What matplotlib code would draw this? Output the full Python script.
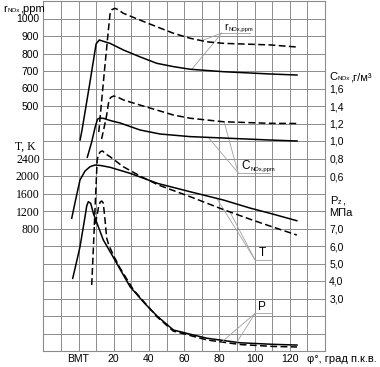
import numpy as np
import matplotlib
matplotlib.use("Agg")
from matplotlib import pyplot as plt

plt.rcParams['font.family'] = ['Liberation Sans', 'DejaVu Sans']

############ data ############
# r_NOx, ppm
phi_r_s = [0.9, 2.0, 6.0, 10.0, 11.8, 14.0, 17.9, 25.5, 34.9, 44.4, 53.9, 63.4, 82.3, 108.8, 124.1]
r_s     = [306, 363, 605, 855, 877, 870, 858, 820, 781, 744, 725, 710, 696, 683, 677]
phi_r_d = [11.5, 14.5, 16.8, 17.9, 19.0, 20.7, 22.4, 25.4, 34.9, 44.4, 54.1, 63.4, 72.9, 82.3, 108.8, 124.1]
r_d     = [351, 677, 917, 1026, 1051, 1058, 1051, 1030, 991, 953, 915, 887, 867, 858, 849, 837]
# C_NOx, g/m3
phi_c_s = [5.0, 7.5, 9.5, 10.8, 12.2, 14.5, 18.0, 23.6, 34.9, 46.3, 63.4, 82.3, 108.8, 124.1]
c_s     = [0.814, 0.99, 1.163, 1.25, 1.263, 1.257, 1.234, 1.206, 1.126, 1.08, 1.05, 1.034, 1.011, 1.0]
phi_c_d = [13.1, 14.5, 16.0, 17.05, 18.2, 19.9, 21.9, 25.5, 34.9, 44.4, 53.9, 63.4, 82.3, 108.8, 124.1]
c_d     = [1.023, 1.149, 1.297, 1.435, 1.497, 1.514, 1.505, 1.469, 1.411, 1.354, 1.297, 1.26, 1.22, 1.202, 1.2]
# T, K
phi_t_s = [-3.86, -1.42, 0.85, 3.69, 6.53, 9.38, 12.5, 17.9, 29.3, 45.0, 63.4, 82.3, 97.6, 108.8, 124.0]
t_s     = [1033, 1497, 1909, 2114, 2212, 2251, 2240, 2199, 2061, 1830, 1640, 1451, 1265, 1147, 978]
phi_t_d = [8.98, 9.6, 10.1, 10.6, 11.36, 12.5, 13.75, 15.06, 17.9, 25.4, 35.0, 45.0, 63.4, 82.1, 97.6, 108.8, 124.0]
t_d     = [880, 1451, 1909, 2366, 2491, 2560, 2571, 2514, 2441, 2212, 2000, 1800, 1527, 1235, 1010, 855, 651]
# Pz, MPa
phi_p_s = [-3.3, -1.0, 0.85, 2.5, 3.69, 4.66, 5.57, 6.93, 8.41, 11.25, 14.1, 19.0, 23.6, 29.3, 37.5,
           44.6, 53.9, 63.0, 72.9, 91.8, 110.7, 124.1]
p_s     = [4.15, 5.14, 5.96, 6.95, 7.67, 8.29, 8.53, 8.44, 7.87, 7.10, 6.34, 5.49, 4.67, 3.67, 2.73,
           2.0, 1.2, 0.97, 0.73, 0.47, 0.38, 0.34]
phi_p_d = [7.5, 8.24, 8.98, 10.06, 10.8, 11.48, 12.33, 13.18, 14.03, 14.66, 15.17, 16.0, 17.05,
           18.47, 20.17, 23.58, 31.1, 44.6, 53.8, 73.0, 91.8, 110.6, 124.1]
p_d     = [3.77, 5.43, 7.14, 7.51, 7.89, 8.29, 8.51, 8.57, 8.46, 7.89, 7.37, 6.46, 6.09,
           5.77, 5.4, 4.74, 3.51, 1.95, 1.14, 0.63, 0.37, 0.26, 0.23]

x_ticks = [0, 20, 40, 60, 80, 100, 120]
x_ticklabels = ['ВМТ', '20', '40', '60', '80', '100', '120']
r_ticks = [500, 600, 700, 800, 900, 1000]
t_ticks = [800, 1200, 1600, 2000, 2400]
c_ticks = [0.6, 0.8, 1.0, 1.2, 1.4, 1.6]
p_ticks = [3, 4, 5, 6, 7]
####################################################

fig = plt.figure(figsize=(3.8, 3.67), dpi=100)
ax = fig.add_axes([43.3/380, 16/367, (325-43.3)/380, 350/367])
ax_r = ax.twinx()
ax_t = ax.twinx()
ax_c = ax.twinx()

ax.set_xlim(-20, 140)
ax.set_ylim(0, 20)
ax_r.set_ylim(-900, 1100)
ax_t.set_ylim(-2000, 6000)
ax_c.set_ylim(-1.4, 2.6)

fs = 7.5
gcol = '#8c8c8c'
ax.set_xticks(np.arange(-20, 141, 10))
ax.set_xticklabels([x_ticklabels[x_ticks.index(v)] if v in x_ticks else '' for v in range(-20, 141, 10)])
ax.set_yticks(np.arange(0, 21, 1))
ax.set_yticklabels([('%.1f' % v).replace('.', ',') if v in p_ticks else '' for v in range(21)])
ax.grid(True, color=gcol, lw=0.7)
ax.set_axisbelow(True)
for s in ax.spines.values():
    s.set_color(gcol)
    s.set_linewidth(0.8)
ax.yaxis.tick_right()
ax.tick_params(axis='both', length=0, labelsize=fs)
ax.tick_params(axis='x', pad=2.5)
ax.tick_params(axis='y', pad=3)

for a in (ax_r, ax_t, ax_c):
    a.set_frame_on(False)
    a.tick_params(axis='y', length=0, labelsize=fs)

ax_r.yaxis.tick_left()
ax_r.set_yticks(r_ticks)
ax_r.set_yticklabels([str(v) for v in r_ticks])
ax_r.tick_params(axis='y', pad=3)

ax_t.yaxis.tick_left()
ax_t.set_yticks(t_ticks)
ax_t.set_yticklabels([str(v) for v in t_ticks], family='Liberation Serif', fontsize=8.5)
ax_t.tick_params(axis='y', pad=2.5)

ax_c.set_yticks(c_ticks)
ax_c.set_yticklabels([('%.1f' % v).replace('.', ',') for v in c_ticks])
ax_c.tick_params(axis='y', pad=3)

lw = 1.1
ds = (4.5, 2.2)
ax_r.plot(phi_r_s, r_s, color='k', lw=lw)
ax_r.plot(phi_r_d, r_d, color='k', lw=lw, dashes=ds)
ax_c.plot(phi_c_s, c_s, color='k', lw=lw)
ax_c.plot(phi_c_d, c_d, color='k', lw=lw, dashes=ds)
ax_t.plot(phi_t_s, t_s, color='k', lw=lw)
ax_t.plot(phi_t_d, t_d, color='k', lw=lw, dashes=ds)
ax.plot(phi_p_s, p_s, color='k', lw=lw)
ax.plot(phi_p_d, p_d, color='k', lw=lw, dashes=ds)


def with_sub(x, y, main, sub, rest='', size=8, subsize=4.5, transform=None):
    # main letter, small subscript, then the rest of the caption
    t = ax.text(x, y, main, fontsize=size, va='bottom', ha='left',
                transform=transform if transform is not None else ax.transData, clip_on=False)
    s = ax.annotate(sub, xy=(1, 0.05), xycoords=t, xytext=(0.4, 0), textcoords='offset points',
                    fontsize=subsize, va='bottom', ha='left', annotation_clip=False)
    if rest:
        ax.annotate(rest, xy=(1, 0), xycoords=(s, t), xytext=(0.2, 0), textcoords='offset points',
                    fontsize=size, va='bottom', ha='left', annotation_clip=False)
    return t


# leader lines with labels
lcol = '#a0a0a0'
def leader(a, targets, base, end):
    for (px, curve_x, curve_y) in targets:
        ax.annotate('', xy=(px, np.interp(px, curve_x, curve_y)), xycoords=a.transData,
                    xytext=base, textcoords=ax.transData,
                    arrowprops=dict(arrowstyle='-', color=lcol, lw=0.6, shrinkA=0, shrinkB=0))
    ax.plot([base[0], end], [base[1], base[1]], color=lcol, lw=0.6)

leader(ax_r, [(70.0, phi_r_d, r_d), (64.3, phi_r_s, r_s)], (81.4, 18.17), 97.4)
with_sub(83.0, 18.2, 'r', 'NOx,ppm', size=7.5, subsize=4.2)
leader(ax_c, [(73.7, phi_c_s, c_s), (82.7, phi_c_d, c_d)], (90.6, 10.19), 108.8)
with_sub(92.5, 10.22, 'C', 'NOx,ppm', size=8.5, subsize=4.2)
leader(ax_t, [(78.5, phi_t_s, t_s), (86.0, phi_t_d, t_d)], (100.3, 5.2), 109.8)
ax.text(102.2, 5.23, 'T', fontsize=8.5, va='bottom', ha='left')
leader(ax, [(81.4, phi_p_d, p_d), (89.9, phi_p_s, p_s)], (100.3, 2.15), 109.8)
ax.text(102.2, 2.18, 'P', fontsize=8.5, va='bottom', ha='left')

# axis captions
F = fig.transFigure
with_sub(3/380, 1-14/367, 'r', 'NOx', ',ppm', size=8, subsize=4.5, transform=F)
ax.text(15/380, 1-147/367, 'T, K', fontsize=8.5, family='Liberation Serif', va='center', ha='left',
        transform=F)
with_sub(329/380, 1-82/367, 'C', 'NOx', ',г/м³', size=8, subsize=4.5, transform=F)
with_sub(330/380, 1-206/367, 'P', 'z', ',', size=8, subsize=5, transform=F)
ax.text(329/380, 1-213.5/367, 'МПа', fontsize=8, va='center', ha='left', transform=F)
ax.text(307/380, 1-359/367, 'φ°, град п.к.в.', fontsize=8, va='center', ha='left', transform=F)

fig.savefig('out.png', dpi=100)
